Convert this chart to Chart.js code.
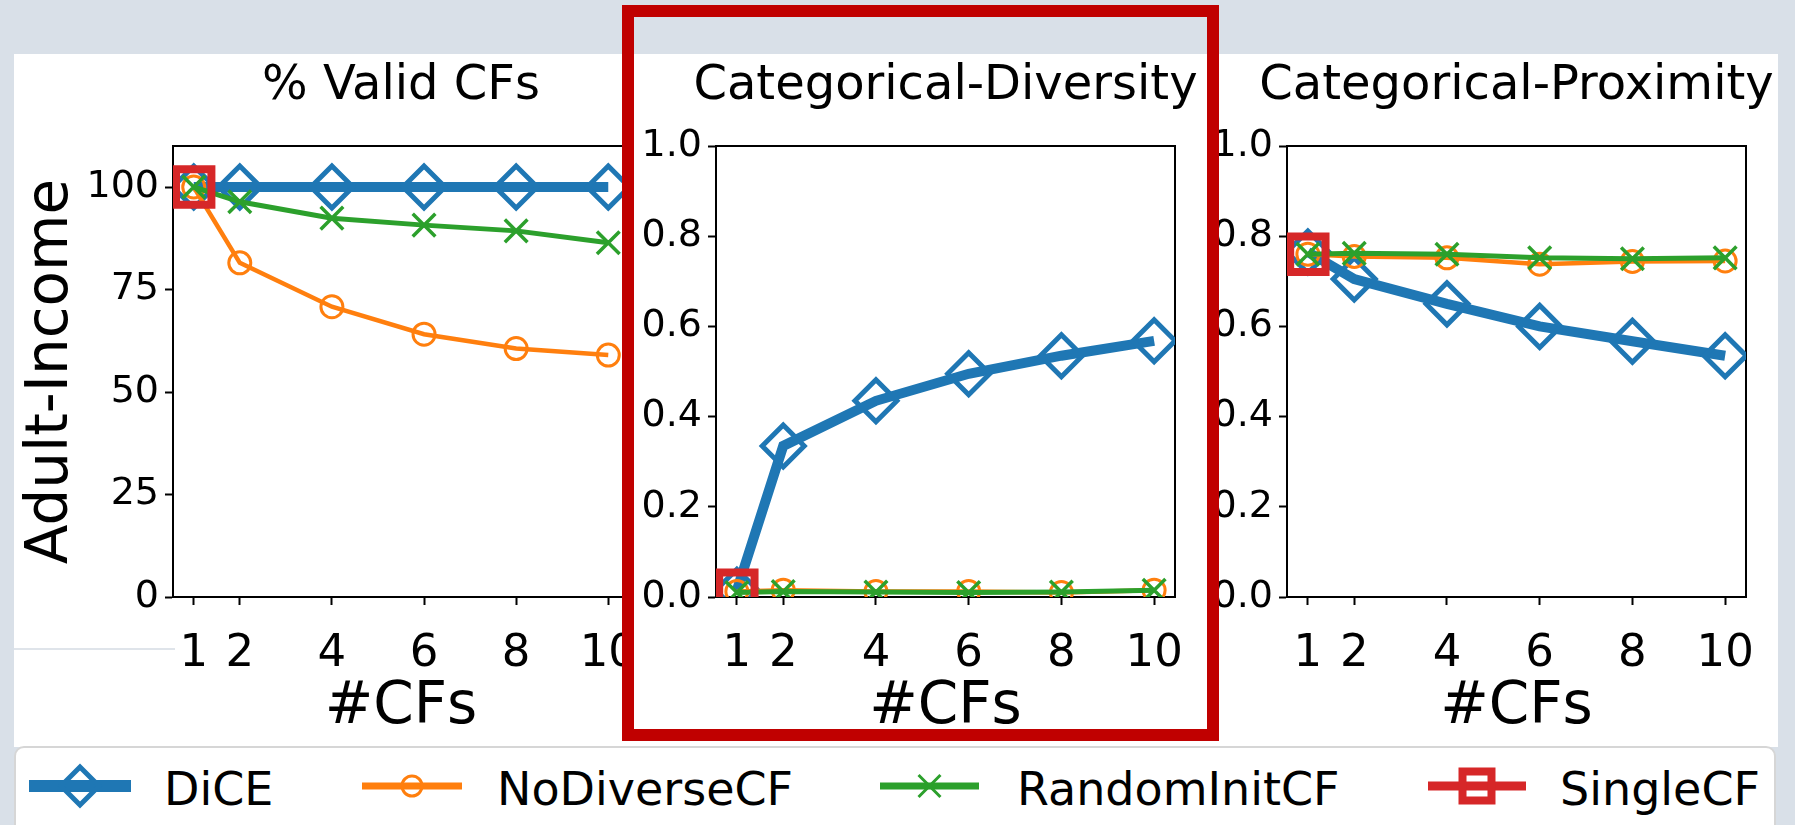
<!DOCTYPE html>
<html>
<head>
<meta charset="utf-8">
<title>DiCE ablation - Adult-Income</title>
<script src="https://cdn.jsdelivr.net/npm/chart.js@4.4.1/dist/chart.umd.min.js"></script>
<style>
  html, body { margin: 0; padding: 0; overflow: hidden; }
  body { width: 1795px; height: 825px; background: #d9e0e8; position: relative;
         font-family: "DejaVu Sans", "Liberation Sans", sans-serif; }
  #sheet { position: absolute; left: 14px; top: 54px; width: 1764px; height: 693px; background: #fff; }
  #rule { position: absolute; left: 14px; top: 648px; width: 161px; height: 2px; background: #dfe4ea; }
  .panel { position: absolute; top: 54px; }
  #legend { position: absolute; left: 14px; top: 746px; width: 1758px; height: 100px; background: #fff;
            border: 2px solid #d6d6d6; border-radius: 10px; }
  .lg-sym { position: absolute; }
  .lg-txt { position: absolute; font-size: 46px; line-height: 46px; color: #000; white-space: nowrap; }
  #hl { position: absolute; left: 622px; top: 5px; width: 597px; height: 736px;
        border: 12px solid #c00000; box-sizing: border-box; pointer-events: none; }
</style>
</head>
<body>
<div id="sheet"></div>
<div id="rule"></div>
<div id="legend"></div>
<div id="hl"></div>
<script>
const FONT = '"DejaVu Sans", "Liberation Sans", sans-serif';

// x axis: number of counterfactuals
const cfCounts = [1, 2, 4, 6, 8, 10];
const seriesNames = ['DiCE', 'NoDiverseCF', 'RandomInitCF', 'SingleCF'];
const panelTitles = ['% Valid CFs', 'Categorical-Diversity', 'Categorical-Proximity'];
const validTicks = [0, 25, 50, 75, 100];
const unitTicks = [0, 0.2, 0.4, 0.6, 0.8, 1.0];

// % Valid CFs
const validDiCE       = [100, 100, 100, 100, 100, 100];
const validNoDiverse  = [100, 81.5, 70.8, 64.1, 60.6, 59.0];
const validRandomInit = [100, 96.4, 92.4, 90.7, 89.3, 86.4];
const validSingle     = [100];

// Categorical-Diversity
const divDiCE       = [0.015, 0.335, 0.435, 0.495, 0.535, 0.568];
const divNoDiverse  = [0.012, 0.015, 0.012, 0.012, 0.010, 0.015];
const divRandomInit = [0.010, 0.012, 0.011, 0.010, 0.011, 0.015];
const divSingle     = [0.015];

// Categorical-Proximity
const proxDiCE       = [0.765, 0.705, 0.650, 0.600, 0.567, 0.535];
const proxNoDiverse  = [0.760, 0.755, 0.752, 0.738, 0.744, 0.745];
const proxRandomInit = [0.760, 0.762, 0.760, 0.752, 0.750, 0.752];
const proxSingle     = [0.760];

// look of each method (matplotlib tab10 colours, hollow markers)
const STYLE = {
  DiCE:         {color: '#1f77b4', lineWidth: 10,  pointStyle: 'rectRot',  radius: 21, markerWidth: 5,   order: 4},
  NoDiverseCF:  {color: '#ff7f0e', lineWidth: 4.5, pointStyle: 'circle',   radius: 11, markerWidth: 3,   order: 3},
  RandomInitCF: {color: '#2ca02c', lineWidth: 5,   pointStyle: 'crossRot', radius: 16, markerWidth: 3.5, order: 2},
  SingleCF:     {color: '#d62728', lineWidth: 8,   pointStyle: 'rect',     radius: 25, markerWidth: 8,   order: 1}
};

const PANELS = [
  {left: 173, right: 629, yWidth: 159, yMax: 110, yTicks: validTicks, fmt: v => String(v),
   title: panelTitles[0], yTitle: 'Adult-Income',
   series: [validDiCE, validNoDiverse, validRandomInit, validSingle]},
  {left: 716, right: 1175, yWidth: 76, yMax: 1, yTicks: unitTicks, fmt: v => v.toFixed(1),
   title: panelTitles[1], yTitle: '',
   series: [divDiCE, divNoDiverse, divRandomInit, divSingle]},
  {left: 1287, right: 1746, yWidth: 82, yMax: 1, yTicks: unitTicks, fmt: v => v.toFixed(1),
   title: panelTitles[2], yTitle: '',
   series: [proxDiCE, proxNoDiverse, proxRandomInit, proxSingle]}
];

const CANVAS_H = 692, X_AXIS_H = 149;

function dataset(name, values) {
  const s = STYLE[name];
  return {
    label: name,
    data: values.map((v, i) => ({x: cfCounts[i], y: v})),
    xAxisID: 'x', yAxisID: 'y',
    borderColor: s.color, borderWidth: s.lineWidth,
    pointStyle: s.pointStyle, pointRadius: s.radius, pointHoverRadius: s.radius,
    pointBorderWidth: s.markerWidth, pointBorderColor: s.color,
    pointBackgroundColor: 'rgba(0,0,0,0)',
    order: s.order, tension: 0, fill: false
  };
}

const frameGrid = {display: true, drawOnChartArea: false, drawTicks: false};
const frameBorder = {display: true, color: '#000', width: 2};

function makePanel(p) {
  const cv = document.createElement('canvas');
  const w = (p.right - p.left) + 2 * p.yWidth;   // y2 mirrors y so the title centres on the axes
  cv.width = w; cv.height = CANVAS_H;
  cv.className = 'panel';
  cv.style.left = (p.left - p.yWidth) + 'px';
  document.body.insertBefore(cv, document.getElementById('hl'));

  return new Chart(cv, {
    type: 'line',
    data: {datasets: seriesNames.map((n, i) => dataset(n, p.series[i]))},
    options: {
      responsive: false, animation: false, events: [],
      layout: {padding: 0},
      plugins: {
        legend: {display: false},
        tooltip: {enabled: false},
        title: {display: true, text: p.title, color: '#000',
                font: {family: FONT, size: 48, weight: 'normal', lineHeight: 1.2},
                padding: {top: 4, bottom: 30.4}}
      },
      scales: {
        x: {
          type: 'linear', position: 'bottom', min: 0.55, max: 10.45,
          afterBuildTicks: s => { s.ticks = cfCounts.map(v => ({value: v})); },
          afterFit: s => { s.height = X_AXIS_H; },
          ticks: {color: '#000', font: {family: FONT, size: 45}, padding: 22,
                  autoSkip: false, maxRotation: 0, callback: v => String(v)},
          grid: {display: true, drawOnChartArea: false, drawTicks: true, tickLength: 8, tickWidth: 2, tickColor: '#000'},
          border: frameBorder,
          title: {display: true, text: '#CFs', color: '#000',
                  font: {family: FONT, size: 58, lineHeight: 1.2}, padding: {top: 0, bottom: 3}}
        },
        y: {
          type: 'linear', position: 'left', min: 0, max: p.yMax,
          afterBuildTicks: s => { s.ticks = p.yTicks.map(v => ({value: v})); },
          afterFit: s => { s.width = p.yWidth; },
          ticks: {color: '#000', font: {family: FONT, size: 38}, padding: 6, callback: p.fmt},
          grid: {display: true, drawOnChartArea: false, drawTicks: true, tickLength: 8, tickWidth: 2, tickColor: '#000'},
          border: frameBorder,
          title: {display: !!p.yTitle, text: p.yTitle, color: '#000',
                  font: {family: FONT, size: 58, lineHeight: 1.2}, padding: {top: 3, bottom: 0}}
        },
        x2: {type: 'linear', position: 'top', min: 0, max: 1, ticks: {display: false},
             grid: frameGrid, border: frameBorder, afterFit: s => { s.height = 0; }},
        y2: {type: 'linear', position: 'right', min: 0, max: 1, ticks: {display: false},
             grid: frameGrid, border: frameBorder, afterFit: s => { s.width = p.yWidth; }}
      }
    }
  });
}

PANELS.forEach(makePanel);

// legend strip below the panels: line with the marker on it, then the name
const LEGEND = [
  {x0: 29,   x1: 131,  tx: 164,  lineWidth: 12, radius: 19,   markerWidth: 5},
  {x0: 362,  x1: 462,  tx: 497,  lineWidth: 7,  radius: 10,   markerWidth: 3},
  {x0: 880,  x1: 979,  tx: 1017, lineWidth: 7,  radius: 15.5, markerWidth: 3},
  {x0: 1428, x1: 1526, tx: 1560, lineWidth: 9,  radius: 20.5, markerWidth: 8}
];
const LEGEND_Y = 786;

seriesNames.forEach((name, i) => {
  const s = STYLE[name], L = LEGEND[i];
  const cv = document.createElement('canvas');
  cv.className = 'lg-sym';
  cv.width = L.x1 - L.x0; cv.height = 64;
  cv.style.left = L.x0 + 'px'; cv.style.top = (LEGEND_Y - 32) + 'px';
  document.body.insertBefore(cv, document.getElementById('hl'));
  const g = cv.getContext('2d');
  g.strokeStyle = s.color;
  g.lineWidth = L.lineWidth;
  g.beginPath(); g.moveTo(0, 32); g.lineTo(cv.width, 32); g.stroke();
  g.lineWidth = L.markerWidth;
  g.fillStyle = 'rgba(0,0,0,0)';
  Chart.helpers.drawPoint(g, {pointStyle: s.pointStyle, radius: L.radius, rotation: 0,
                              borderWidth: L.markerWidth}, cv.width / 2, 32);

  const t = document.createElement('span');
  t.className = 'lg-txt';
  t.textContent = name;
  t.style.left = L.tx + 'px';
  t.style.top = (LEGEND_Y - 20) + 'px';
  document.body.insertBefore(t, document.getElementById('hl'));
});
</script>
</body>
</html>
